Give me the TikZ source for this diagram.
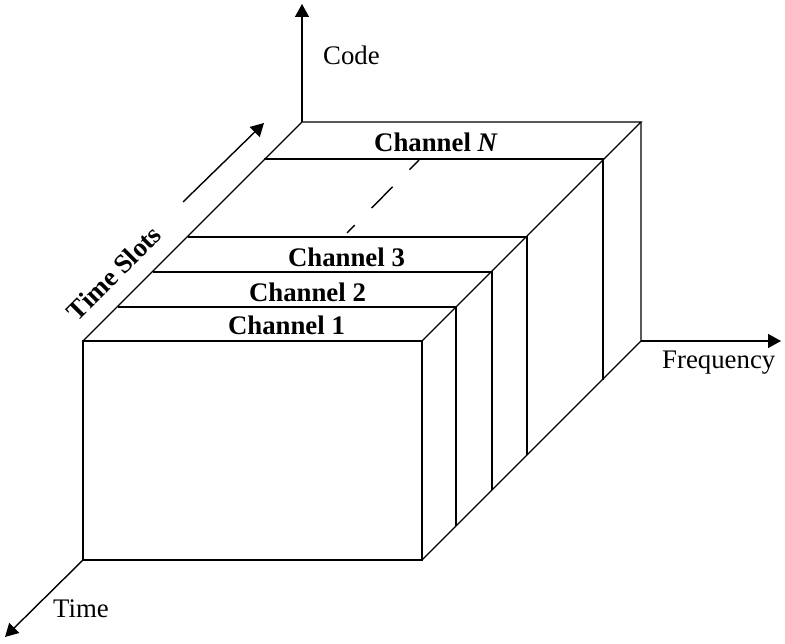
\documentclass[tikz,border=0pt]{standalone}
\usepackage{fontspec}
\setmainfont{Liberation Serif}
\usetikzlibrary{arrows.meta}
\begin{document}
\begin{tikzpicture}[x=1pt,y=-1pt,
  edge/.style={line width=1.4pt,line join=miter},
  axis/.style={line width=1.4pt,-{Triangle[length=13pt,width=14pt]}},
  lbl/.style={font=\fontsize{26.8}{30}\selectfont,inner sep=0pt,anchor=base west},
  blbl/.style={font=\fontsize{26.8}{30}\selectfont\bfseries,inner sep=0pt,anchor=base}]
\useasboundingbox (0,0) rectangle (785,644);
% corners
\coordinate (ftl) at (83,341);
\coordinate (ftr) at (422,341);
\coordinate (fbr) at (422,560);
\coordinate (fbl) at (83,560);
\coordinate (btl) at (302,122);
\coordinate (btr) at (641,122);
\coordinate (bbr) at (641,341);
% axis ends
\coordinate (codeend) at (302,4);
\coordinate (freqend) at (781,341);
\coordinate (timeend) at (5,637);
\coordinate (tsA) at (183,202);
\coordinate (tsB) at (264,123);
% channel lines
\coordinate (c1l) at (118,307);
\coordinate (c1r) at (456,307);
\coordinate (c1b) at (456,526);
\coordinate (c2l) at (153,272);
\coordinate (c2r) at (492,272);
\coordinate (c2b) at (492,490);
\coordinate (c3l) at (188,237);
\coordinate (c3r) at (527,237);
\coordinate (c3b) at (527,455);
\coordinate (cNl) at (264,159);
\coordinate (cNr) at (603,159);
\coordinate (cNb) at (603,380);
\coordinate (dA) at (347,233);
\coordinate (dB) at (419,160);
% box
\draw[edge] (ftl) rectangle (fbr);
\draw[edge] (ftl) -- (btl) -- (btr) -- (ftr);
\draw[edge] (btr) -- (bbr) -- (fbr);
\draw[edge] (c1l) -- (c1r) -- (c1b);
\draw[edge] (c2l) -- (c2r) -- (c2b);
\draw[edge] (c3l) -- (c3r) -- (c3b);
\draw[edge] (cNl) -- (cNr) -- (cNb);
\draw[line width=1.4pt,dash pattern=on 30pt off 24pt,dash phase=19pt] (dA) -- (dB);
% axes
\draw[axis] (btl) -- (codeend);
\draw[axis] (bbr) -- (freqend);
\draw[axis] (fbl) -- (timeend);
\draw[axis] (tsA) -- (tsB);
% labels
\node[lbl] (code) at (323,65) {Code};
\node[lbl] (freq) at (662,369) {Frequency};
\node[lbl] (time) at (53,617) {Time};
\node[blbl] (ch1) at (286.5,335) {Channel 1};
\node[blbl] (ch2) at (307.5,301.5) {Channel 2};
\node[blbl] (ch3) at (346.5,266.5) {Channel 3};
\node[blbl] (chN) at (436,151.5) {Channel \textit{N}};
\node[font=\fontsize{26.8}{30}\selectfont\bfseries,inner sep=0pt,rotate=45] (ts) at (114,273) {Time Slots};
\end{tikzpicture}
\end{document}
